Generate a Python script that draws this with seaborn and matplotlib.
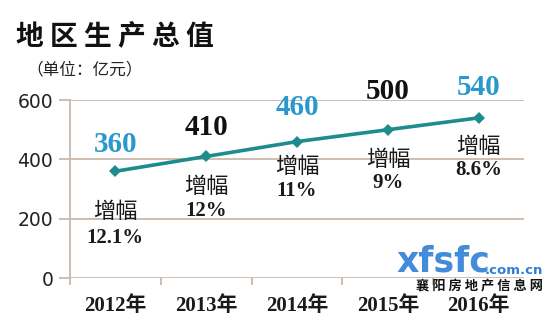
import matplotlib
matplotlib.use("Agg")
import matplotlib.pyplot as plt
import seaborn as sns
import pandas as pd

years = ["2012年", "2013年", "2014年", "2015年", "2016年"]
values = [360, 410, 460, 500, 540]
growth = ["12.1%", "12%", "11%", "9%", "8.6%"]
yticks = [0, 200, 400, 600]

sns.set_theme(style="white")
plt.rcParams['font.family'] = ['Noto Sans CJK SC', 'DejaVu Sans']

df = pd.DataFrame({"idx": range(len(years)), "value": values})

fig = plt.figure(figsize=(5.5, 3.28), dpi=100)
ax = fig.add_axes([0.127, 0.152, 0.826, 0.543])

grid_c = "#c9b9aa"
for y in yticks:
    ax.axhline(y, color=grid_c, lw=1.3, zorder=0)

sns.lineplot(data=df, x="idx", y="value", ax=ax, color="#1e8b8c", lw=2.6,
             marker="D", markersize=6, markeredgewidth=0, zorder=3)

ax.set_xlim(-0.5, len(years) - 0.5)
ax.set_ylim(0, 600)
ax.set_xlabel("")
ax.set_ylabel("")
for s in ["top", "right", "bottom"]:
    ax.spines[s].set_visible(False)
ax.spines["left"].set_color(grid_c)
ax.spines["left"].set_linewidth(1.3)

ax.set_yticks(yticks)
ax.set_yticklabels([str(v) for v in yticks], fontsize=13.5, color="#222222",
                   family=['DejaVu Sans'])
ax.tick_params(axis="y", length=8, width=1.3, color=grid_c, pad=4, left=True)

ax.set_xticks(range(len(years)))
ax.set_xticklabels(years, fontsize=15, fontweight="bold", color="#1a1a1a",
                   family=['Liberation Serif', 'Noto Sans CJK SC'])
ax.tick_params(axis="x", length=0, pad=13)
ax.set_xticks([i - 0.5 for i in range(len(years))], minor=True)
ax.tick_params(axis="x", which="minor", length=5, width=1.3, color=grid_c, bottom=True)

val_colors = ["#2a98cc", "#111111", "#2a98cc", "#111111", "#2a98cc"]
val_off = [27, 29, 34, 38, 30]
g1_off = [40, 30, 25, 30, 29]
g2_off = [67, 55, 49, 53, 52]
px = 0.72
for i, v in enumerate(values):
    ax.annotate(str(v), (i, v), xytext=(0, val_off[i] * px), textcoords="offset points",
                ha="center", va="center", fontsize=21, fontweight="bold",
                color=val_colors[i], family=['Liberation Serif'])
    ax.annotate("增幅", (i, v), xytext=(0, -g1_off[i] * px), textcoords="offset points",
                ha="center", va="center", fontsize=16, color="#1a1a1a")
    ax.annotate(growth[i], (i, v), xytext=(0, -g2_off[i] * px), textcoords="offset points",
                ha="center", va="center", fontsize=15, fontweight="bold",
                color="#1a1a1a", family=['Liberation Serif'])

fig.text(16 / 550, 1 - 36 / 328, "地 区 生 产 总 值", fontsize=20, fontweight="heavy",
         color="#111111", ha="left", va="center")
fig.text(26 / 550, 1 - 70 / 328, "（单位：亿元）", fontsize=12, color="#222222",
         ha="left", va="center")

# watermark
fig.text(396 / 550, 1 - 262 / 328, "xfsfc", fontsize=25, fontweight="bold",
         color="#2f7fd6", ha="left", va="center", family=['DejaVu Sans'], alpha=0.9)
fig.text(543 / 550, 1 - 271 / 328, ".com.cn", fontsize=9.5, fontweight="bold",
         color="#2f7fd6", ha="right", va="center", family=['DejaVu Sans'])
fig.text(543 / 550, 1 - 286 / 328, "襄 阳 房 地 产 信 息 网", fontsize=9.5,
         fontweight="bold", color="#111111", ha="right", va="center")

fig.savefig("out.png", dpi=100)
